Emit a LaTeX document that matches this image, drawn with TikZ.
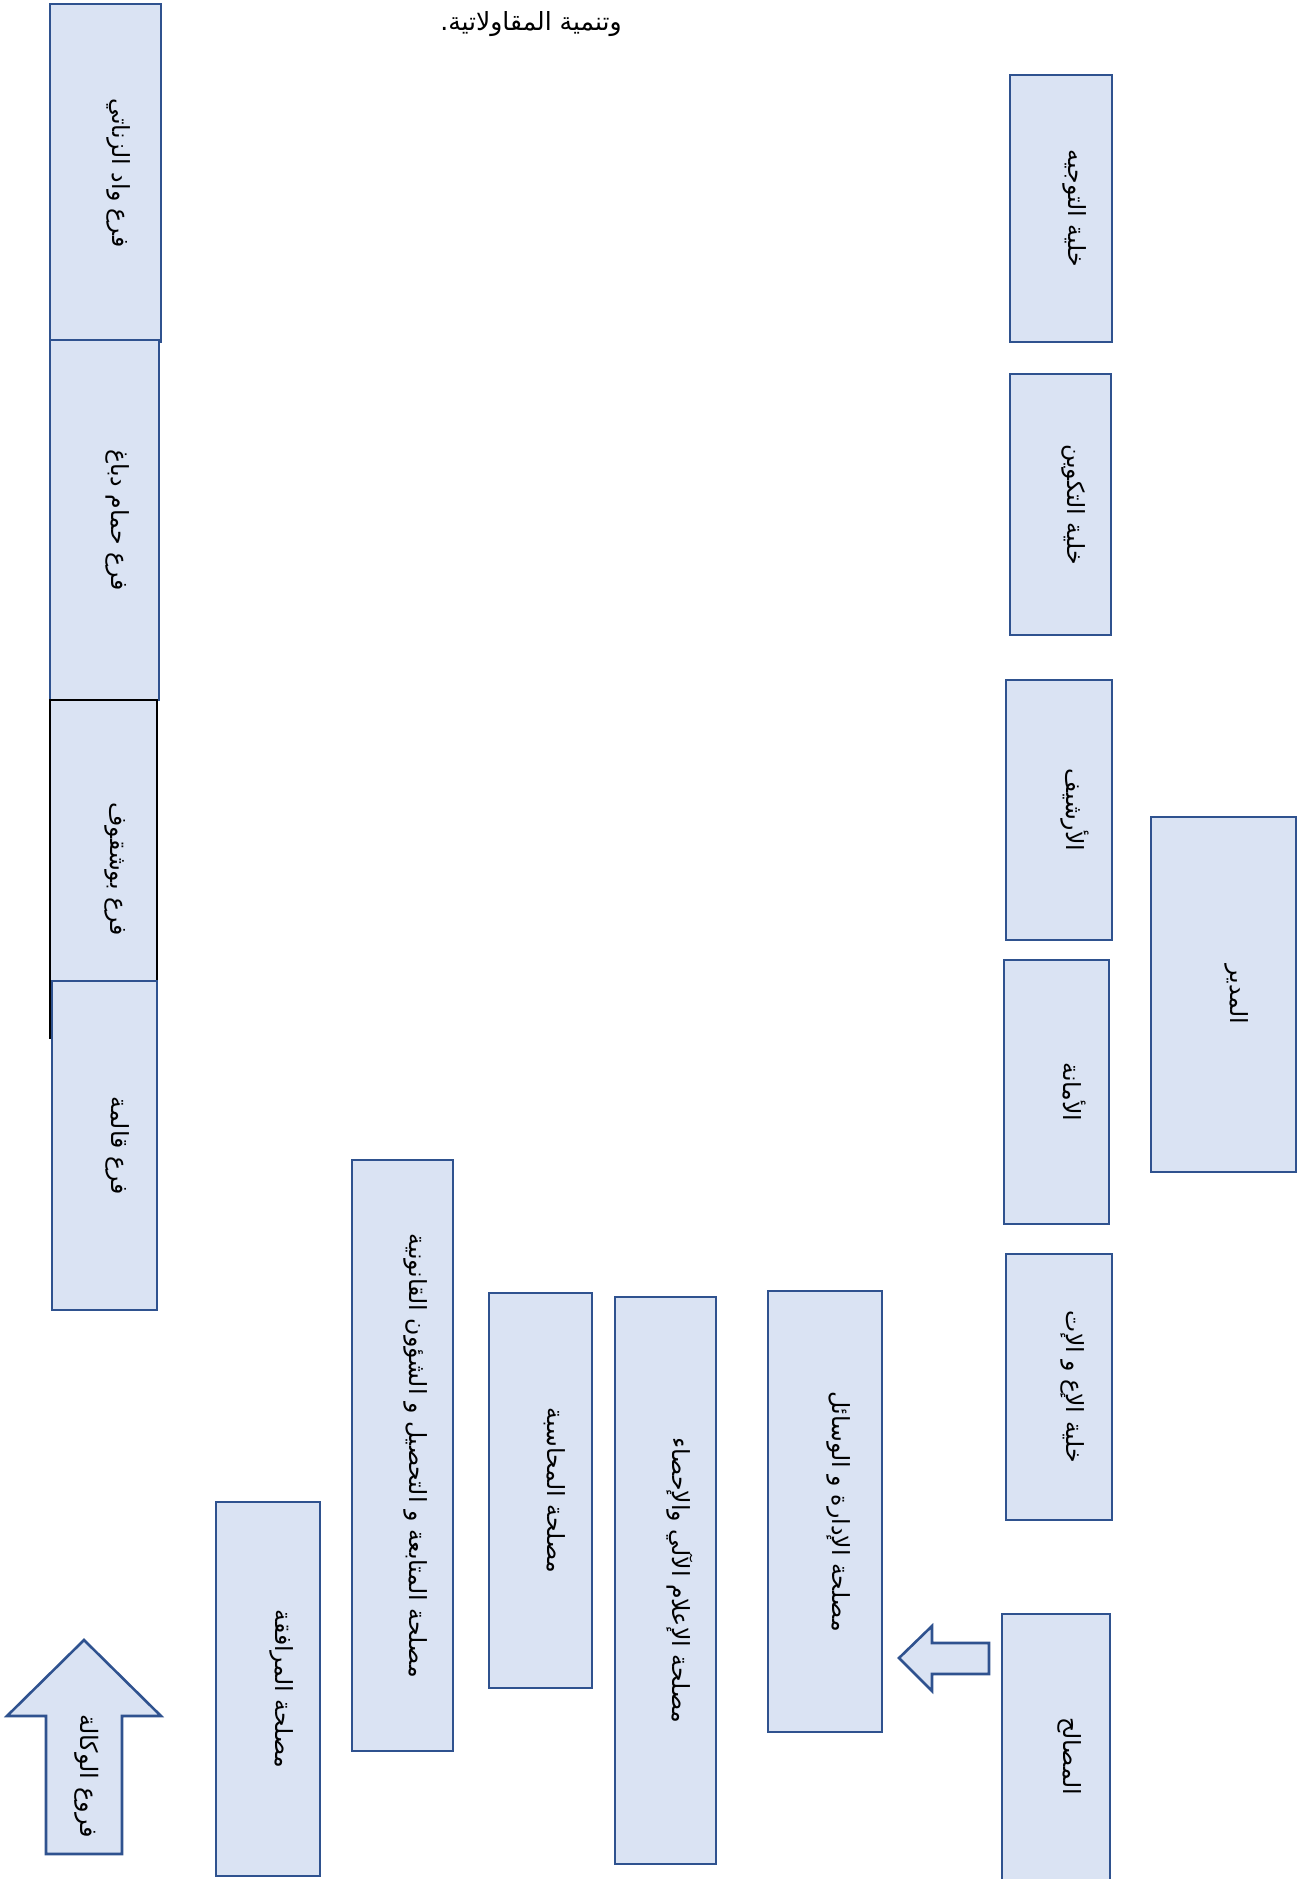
\documentclass[tikz,border=0pt]{standalone}
\usepackage{fontspec}
\newfontfamily\arabicfont[Script=Arabic]{DejaVu Sans}
\TeXXeTstate=1
\definecolor{boxfill}{HTML}{DAE3F3}
\definecolor{boxline}{HTML}{2F528F}
\newcommand\AR[1]{\beginR #1\endR}
\tikzset{
  orgbox/.style={draw=boxline, fill=boxfill, line width=1.2pt, rotate=-90, inner sep=0pt,
    text height=4pt, text depth=11pt,
    font=\arabicfont\fontsize{11.8}{14}\selectfont},
  blockarrow/.style={draw=boxline, fill=boxfill, line width=1.3pt, line join=miter},
  plaintext/.style={font=\arabicfont\fontsize{12.5}{15}\selectfont, inner sep=0pt},
  arrowtext/.style={rotate=-90, inner sep=0pt,
    font=\arabicfont\fontsize{12}{14}\selectfont}
}
\begin{document}
\begin{tikzpicture}[x=0.5pt,y=-0.5pt]
\useasboundingbox (0,0) rectangle (1310,1879);
\clip (0,0) rectangle (1310,1879);

% title fragment
\node[plaintext] (title) at (531,24) {\AR{وتنمية المقاولاتية.}};

% right column
\node[orgbox, minimum width=133.5pt, minimum height=51pt] (tawjih) at (1061,208.5) {\AR{خلية التوجيه}};
\node[orgbox, minimum width=130.5pt, minimum height=50.5pt] (takwin) at (1060.5,504.5) {\AR{خلية التكوين}};
\node[orgbox, minimum width=130pt, minimum height=53pt] (archive) at (1059,810) {\AR{الأرشيف}};
\node[orgbox, minimum width=132pt, minimum height=52.5pt] (amana) at (1056.5,1092) {\AR{الأمانة}};
\node[orgbox, minimum width=177.5pt, minimum height=72.5pt] (mudir) at (1223.5,994.5) {\AR{المدير}};
\node[orgbox, minimum width=133pt, minimum height=53pt] (ilamcell) at (1059,1387) {\AR{خلية الإع و الإت}};
\node[orgbox, minimum width=142pt, minimum height=54pt] (masalih) at (1056,1756) {\AR{المصالح}};

% services
\node[orgbox, minimum width=220.5pt, minimum height=57pt] (idara) at (825,1511.5) {\AR{مصلحة الإدارة و الوسائل}};
\node[orgbox, minimum width=283.5pt, minimum height=50.5pt] (ilam) at (665.5,1580.5) {\AR{مصلحة الإعلام الآلي والإحصاء}};
\node[orgbox, minimum width=197.5pt, minimum height=51.5pt] (muhasaba) at (540.5,1490.5) {\AR{مصلحة المحاسبة}};
\node[orgbox, minimum width=295.5pt, minimum height=50.5pt] (mutabaa) at (402.5,1455.5) {\AR{مصلحة  المتابعة  و  التحصيل  و  الشؤون  القانونية}};
\node[orgbox, minimum width=187pt, minimum height=52pt] (murafaqa) at (268,1689) {\AR{مصلحة المرافقة}};

% arrow from masalih to idara
\draw[blockarrow] (899,1658) -- (932,1626) -- (932,1643) -- (989,1643) -- (989,1674) -- (932,1674) -- (932,1691) -- cycle;

% agency branches arrow
\draw[blockarrow] (84,1640) -- (161,1716) -- (122,1716) -- (122,1854) -- (46,1854) -- (46,1716) -- (7,1716) -- cycle;
\node[arrowtext] (furu) at (87,1776) {\AR{فروع الوكالة}};

% branches
\node[orgbox, minimum width=169pt, minimum height=55.5pt] (zenati) at (105.5,173) {\AR{فرع واد الزناتي}};
\node[orgbox, minimum width=180pt, minimum height=54.5pt] (hammam) at (104.5,520) {\AR{فرع حمام دباغ}};
\node[orgbox, draw=black, minimum width=169pt, minimum height=53.5pt] (bouchegouf) at (103.5,869) {\AR{فرع بوشقوف}};
\node[orgbox, minimum width=164.5pt, minimum height=52.5pt] (guelma) at (104.5,1145.5) {\AR{فرع قالمة}};
\end{tikzpicture}
\end{document}
